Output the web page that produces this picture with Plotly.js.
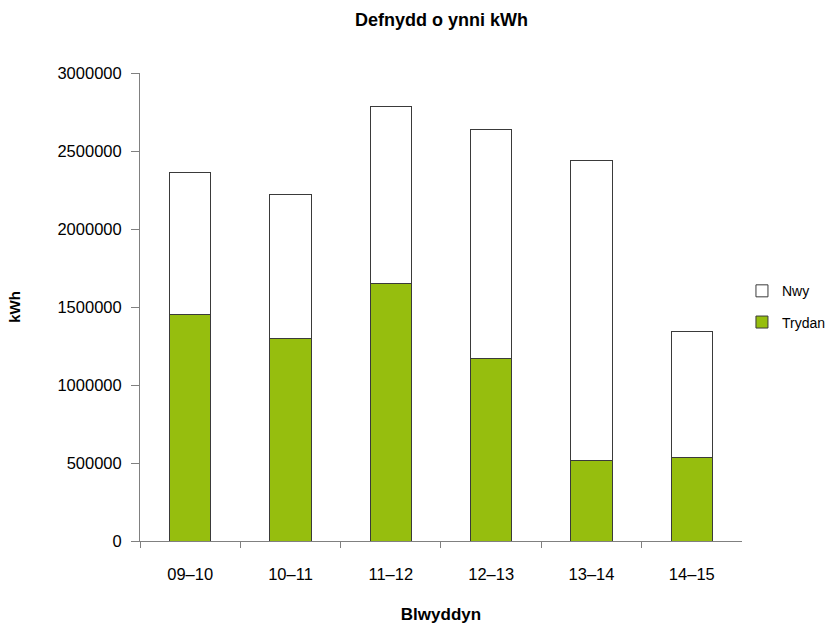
<!DOCTYPE html>
<html>
<head>
<meta charset="utf-8">
<script src="https://cdn.plot.ly/plotly-3.0.1.min.js"></script>
<style>html,body{margin:0;padding:0;background:#fff;}#chart{width:829px;height:626px;}</style>
</head>
<body>
<div id="chart"></div>
<script>
const years = ["09–10", "10–11", "11–12", "12–13", "13–14", "14–15"];
const trydan = [1455000, 1300000, 1650000, 1167000, 515000, 533000];
const nwy = [905000, 920000, 1135000, 1473000, 1922000, 807000];
const yTicks = [0, 500000, 1000000, 1500000, 2000000, 2500000, 3000000];

const font = "Liberation Sans, Arial, sans-serif";
const traces = [
  {type: "bar", name: "Trydan", legendgroup: "t", legendrank: 2, x: years, y: trydan,
   marker: {color: "#96BE0E", line: {color: "#3a3a3a", width: 1}}},
  {type: "bar", name: "Nwy", legendgroup: "n", legendrank: 1, x: years, y: nwy,
   marker: {color: "#ffffff", line: {color: "#3a3a3a", width: 1}}}
];
const layout = {
  width: 829, height: 626,
  margin: {l: 140, r: 85, t: 73, b: 85},
  paper_bgcolor: "#fff", plot_bgcolor: "#fff",
  barmode: "stack", bargap: 0.59,
  font: {family: font, color: "#000"},
  title: {text: "Defnydd o ynni kWh", font: {family: font, size: 18, weight: "bold"},
          x: 0.5327, xanchor: "center", y: 0.968, yanchor: "middle"},
  xaxis: {title: {text: "Blwyddyn", font: {size: 17, weight: "bold"}, standoff: 26},
          tickfont: {size: 16.5}, showline: true, linecolor: "#808080", linewidth: 1,
          ticks: "outside", tickson: "boundaries", ticklen: 6, tickcolor: "#808080",
          ticklabelstandoff: 18,
          showgrid: false, zeroline: false},
  yaxis: {title: {text: "kWh", font: {size: 15, weight: "bold"}, standoff: 33},
          range: [0, 3000000], tickvals: yTicks, ticktext: yTicks.map(String),
          tickfont: {size: 16.5}, showline: true, linecolor: "#808080", linewidth: 1,
          ticks: "outside", ticklen: 8, tickcolor: "#808080",
          ticklabelstandoff: 6,
          showgrid: false, zeroline: false},
  legend: {xref: "container", yref: "container", x: 0.895, xanchor: "left",
           y: 0.51, yanchor: "middle", traceorder: "grouped",
           font: {size: 14}, itemwidth: 30, tracegroupgap: 10}
};
Plotly.newPlot("chart", traces, layout, {displayModeBar: false, staticPlot: true});
</script>
</body>
</html>
